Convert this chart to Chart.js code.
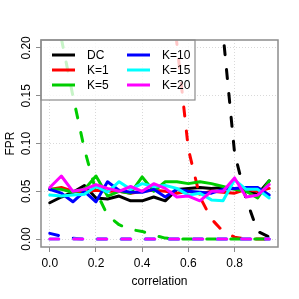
<!DOCTYPE html>
<html>
<head>
<meta charset="utf-8">
<script src="https://cdn.jsdelivr.net/npm/chart.js@4.4.1/dist/chart.umd.min.js"></script>
<style>
  html, body { margin: 0; padding: 0; background: #fff; }
</style>
</head>
<body>
<canvas id="fprChart" width="299" height="299"></canvas>
<script>
// x values (correlation)
const correlation = [0, 0.05, 0.1, 0.15, 0.2, 0.25, 0.3, 0.35, 0.4, 0.45, 0.5, 0.55, 0.6, 0.65, 0.7, 0.75, 0.8, 0.85, 0.9, 0.95];
const methods = ["DC", "K=1", "K=5", "K=10", "K=15", "K=20"];
const colors = ["#000000", "#FF0000", "#00CD00", "#0000FF", "#00FFFF", "#FF00FF"];

// solid lines (FPR)
const fprDC  = [0.038, 0.044, 0.049, 0.056, 0.043, 0.042, 0.045, 0.040, 0.040, 0.044, 0.040, 0.052, 0.053, 0.054, 0.053, 0.054, 0.053, 0.050, 0.047, 0.061];
const fprK1  = [0.052, 0.054, 0.050, 0.049, 0.051, 0.050, 0.050, 0.048, 0.050, 0.051, 0.050, 0.048, 0.050, 0.047, 0.050, 0.049, 0.048, 0.052, 0.050, 0.053];
const fprK5  = [0.052, 0.052, 0.049, 0.052, 0.066, 0.045, 0.050, 0.048, 0.065, 0.050, 0.060, 0.060, 0.058, 0.060, 0.058, 0.055, 0.052, 0.050, 0.043, 0.061];
const fprK10 = [0.052, 0.048, 0.039, 0.050, 0.039, 0.060, 0.051, 0.049, 0.049, 0.052, 0.044, 0.052, 0.050, 0.049, 0.048, 0.052, 0.053, 0.054, 0.054, 0.046];
const fprK15 = [0.046, 0.045, 0.046, 0.047, 0.055, 0.049, 0.060, 0.052, 0.058, 0.055, 0.056, 0.053, 0.046, 0.048, 0.041, 0.040, 0.062, 0.052, 0.052, 0.043];
const fprK20 = [0.054, 0.066, 0.050, 0.052, 0.057, 0.053, 0.050, 0.055, 0.050, 0.058, 0.053, 0.044, 0.045, 0.040, 0.050, 0.050, 0.064, 0.044, 0.046, 0.057];

// dashed lines
const dashDC  = [0.95, 0.94, 0.92, 0.90, 0.88, 0.85, 0.82, 0.78, 0.72, 0.65, 0.58, 0.50, 0.42, 0.33, 0.26, 0.215, 0.090, 0.042, 0.008, 0.002];
const dashK1  = [0.90, 0.88, 0.85, 0.82, 0.78, 0.72, 0.65, 0.57, 0.48, 0.40, 0.32, 0.205, 0.094, 0.044, 0.021, 0.008, 0.002, 0, 0, 0];
const dashK5  = [0.36, 0.21, 0.150, 0.094, 0.050, 0.025, 0.015, 0.010, 0.008, 0.004, 0.001, 0, 0, 0, 0, 0, 0, 0, 0, 0];
const dashK10 = [0.006, 0.003, 0.001, 0, 0, 0, 0, 0, 0, 0, 0, 0, 0, 0, 0, 0, 0, 0, 0, 0];
const dashK15 = [0, 0, 0, 0, 0, 0, 0, 0, 0, 0, 0, 0, 0, 0, 0, 0, 0, 0, 0, 0];
const dashK20 = [0, 0, 0, 0, 0, 0, 0, 0, 0, 0, 0, 0, 0, 0, 0, 0, 0, 0, 0, 0];

const xTicks = [0, 0.2, 0.4, 0.6, 0.8];
const yTicks = [0, 0.05, 0.1, 0.15, 0.2];

const solid = [fprDC, fprK1, fprK5, fprK10, fprK15, fprK20];
const dashed = [dashDC, dashK1, dashK5, dashK10, dashK15, dashK20];

const FONT = "'Liberation Sans', Arial, sans-serif";
const AXIS_GREY = "#8c8c8c";

// R draws each method in turn, later ones on top -> higher "order" is drawn first in Chart.js
const datasets = [];
let seq = 0;
methods.forEach((m, i) => {
  datasets.push({
    label: m,
    data: correlation.map((x, j) => ({ x: x, y: solid[i][j] })),
    borderColor: colors[i],
    borderWidth: 3,
    order: 100 - seq++
  });
  datasets.push({
    label: m + " (dashed)",
    data: correlation.map((x, j) => ({ x: x, y: dashed[i][j] })),
    borderColor: colors[i],
    borderWidth: 3,
    borderDash: [9, 15],
    order: 100 - seq++
  });
});

// legend box like R's legend(ncol = 2), semi transparent background
const rLegend = {
  id: "rLegend",
  afterDatasetsDraw(chart) {
    const { ctx, chartArea } = chart;
    const left = chartArea.left, top = chartArea.top;
    const w = 154, h = 60;
    ctx.save();
    ctx.setLineDash([]);
    ctx.fillStyle = "rgba(255,255,255,0.78)";
    ctx.fillRect(left, top, w, h);
    ctx.strokeStyle = AXIS_GREY;
    ctx.lineWidth = 1.2;
    ctx.strokeRect(left, top, w, h);
    ctx.font = "12px " + FONT;
    ctx.textBaseline = "middle";
    ctx.textAlign = "left";
    ctx.lineCap = "butt";
    methods.forEach((m, i) => {
      const col = Math.floor(i / 3), row = i % 3;
      const lx = left + 11 + col * 75;
      const ly = top + 15 + row * 15;
      ctx.strokeStyle = colors[i];
      ctx.lineWidth = 3;
      ctx.beginPath();
      ctx.moveTo(lx, ly);
      ctx.lineTo(lx + 23, ly);
      ctx.stroke();
      ctx.fillStyle = "#000";
      ctx.fillText(m, lx + 35, ly + 1);
    });
    ctx.restore();
  },
  afterDraw(chart) {
    const { ctx, chartArea } = chart;
    ctx.save();
    ctx.setLineDash([]);
    ctx.strokeStyle = AXIS_GREY;
    ctx.lineWidth = 1.5;
    ctx.strokeRect(chartArea.left, chartArea.top, chartArea.right - chartArea.left, chartArea.bottom - chartArea.top);
    ctx.restore();
  }
};

const config = {
  type: "line",
  data: { datasets: datasets },
  options: {
    responsive: false,
    animation: false,
    devicePixelRatio: 1,
    layout: { padding: { top: 40, right: 21, left: 0, bottom: 0 } },
    elements: {
      point: { radius: 0, hoverRadius: 0 },
      line: { tension: 0, borderCapStyle: "round", borderJoinStyle: "round" }
    },
    plugins: {
      legend: { display: false },
      tooltip: { enabled: false }
    },
    scales: {
      x: {
        type: "linear",
        min: -0.038,
        max: 0.988,
        afterBuildTicks: (s) => { s.ticks = xTicks.map(v => ({ value: v })); },
        afterFit: (s) => { s.height = 52; },
        ticks: {
          callback: (v) => v.toFixed(1),
          color: "#000",
          font: { family: FONT, size: 12 },
          padding: 4,
          maxRotation: 0,
          autoSkip: false
        },
        grid: { color: "#d9d9d9", tickColor: AXIS_GREY, tickLength: 5, lineWidth: 1 },
        border: { display: false, dash: [1, 2] },
        title: {
          display: true,
          text: "correlation",
          color: "#000",
          font: { family: FONT, size: 12 },
          padding: { top: 0, bottom: 10 }
        }
      },
      y: {
        min: -0.0083,
        max: 0.2083,
        afterBuildTicks: (s) => { s.ticks = yTicks.map(v => ({ value: v })); },
        afterFit: (s) => { s.width = 41; },
        ticks: {
          callback: (v) => v.toFixed(2),
          color: "#000",
          font: { family: FONT, size: 12 },
          minRotation: 90,
          maxRotation: 90,
          crossAlign: "center",
          padding: -2,
          autoSkip: false
        },
        grid: { color: "#d9d9d9", tickColor: AXIS_GREY, tickLength: 5, lineWidth: 1 },
        border: { display: false, dash: [1, 2] },
        title: {
          display: true,
          text: "FPR",
          color: "#000",
          font: { family: FONT, size: 12 },
          padding: { top: 3, bottom: 0 }
        }
      }
    }
  },
  plugins: [rLegend]
};

new Chart(document.getElementById("fprChart"), config);
</script>
</body>
</html>
